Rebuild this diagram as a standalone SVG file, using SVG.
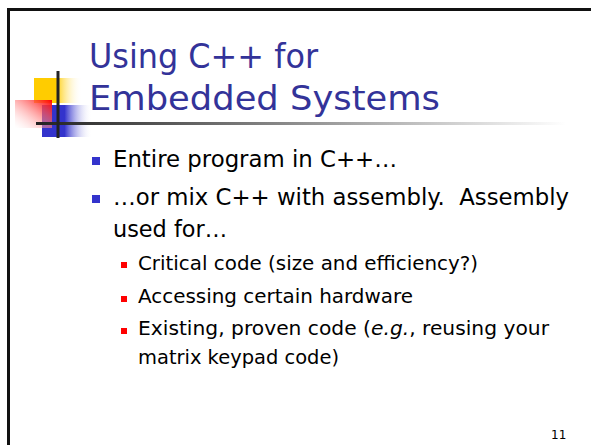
<svg xmlns="http://www.w3.org/2000/svg" width="591" height="445" viewBox="0 0 591 445">
<defs>
<linearGradient id="gY" x1="0" y1="0" x2="1" y2="0"><stop offset="0" stop-color="#FFCC00"/><stop offset="0.45" stop-color="#FFCC00"/><stop offset="1" stop-color="#FFFFFF" stop-opacity="0"/></linearGradient>
<linearGradient id="gB" x1="0" y1="0" x2="1" y2="0"><stop offset="0" stop-color="#3333CC"/><stop offset="0.45" stop-color="#3333CC"/><stop offset="1" stop-color="#FFFFFF" stop-opacity="0"/></linearGradient>
<linearGradient id="gR" x1="1" y1="0" x2="0" y2="1"><stop offset="0" stop-color="#FF0000"/><stop offset="1" stop-color="#FFFFFF" stop-opacity="0.2"/></linearGradient>
<linearGradient id="gL" x1="0" y1="0" x2="1" y2="0"><stop offset="0" stop-color="#222222"/><stop offset="0.08" stop-color="#333333"/><stop offset="1" stop-color="#FFFFFF"/></linearGradient>
<style>
.t{font-family:"DejaVu Sans","Liberation Sans",sans-serif;}
.title{font-size:34px;fill:#333399;}
.b1{font-size:23px;fill:#000;}
.b2{font-size:20px;fill:#000;}
.pg{font-size:12px;fill:#000;}
</style>
</defs>
<rect x="0" y="0" width="591" height="445" fill="#fff"/>
<rect x="8.5" y="9.5" width="600" height="460" fill="none" stroke="#111" stroke-width="3"/>
<g id="logo">
<rect x="34" y="78" width="48" height="25" fill="url(#gY)"/>
<rect x="42" y="105" width="50" height="32" fill="url(#gB)"/>
<rect x="15" y="100" width="37" height="28" fill="url(#gR)"/>
<rect x="36" y="122" width="530" height="3" fill="url(#gL)"/>
<rect x="56.5" y="71" width="3" height="67" fill="#222"/>
</g>
<g id="title" class="t title">
<text x="89" y="68" textLength="229" lengthAdjust="spacingAndGlyphs">Using C++ for</text>
<text x="89" y="110" textLength="351" lengthAdjust="spacingAndGlyphs">Embedded Systems</text>
</g>
<g id="bullets" class="t">
<rect x="92" y="157" width="8" height="8" fill="#3333CC"/>
<text class="b1" x="113" y="167" textLength="284" lengthAdjust="spacingAndGlyphs">Entire program in C++…</text>
<rect x="92" y="195" width="8" height="8" fill="#3333CC"/>
<text class="b1" x="113" y="205" textLength="456" lengthAdjust="spacingAndGlyphs" xml:space="preserve">…or mix C++ with assembly.  Assembly</text>
<text class="b1" x="113" y="237" textLength="114" lengthAdjust="spacingAndGlyphs">used for…</text>
<rect x="121" y="262" width="6" height="6" fill="#FF0000"/>
<text class="b2" x="138" y="270" textLength="340" lengthAdjust="spacingAndGlyphs">Critical code (size and efficiency?)</text>
<rect x="121" y="296" width="6" height="6" fill="#FF0000"/>
<text class="b2" x="138" y="303" textLength="275" lengthAdjust="spacingAndGlyphs">Accessing certain hardware</text>
<rect x="121" y="328" width="6" height="6" fill="#FF0000"/>
<text class="b2" x="138" y="335" textLength="411" lengthAdjust="spacingAndGlyphs">Existing, proven code (<tspan font-style="italic">e.g.</tspan>, reusing your</text>
<text class="b2" x="138" y="364" textLength="201" lengthAdjust="spacingAndGlyphs">matrix keypad code)</text>
</g>
<text id="page" class="t pg" x="551" y="439">11</text>
</svg>
